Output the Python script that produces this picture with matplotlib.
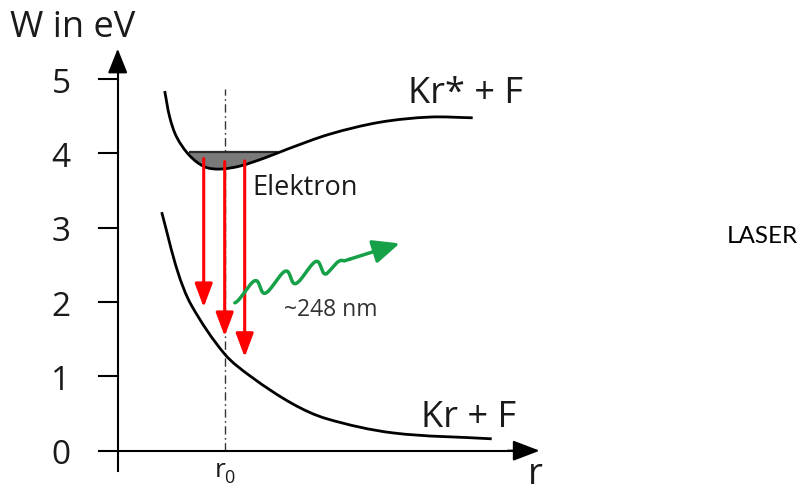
import numpy as np
import matplotlib
matplotlib.use("Agg")
import matplotlib.pyplot as plt
from matplotlib.path import Path
from matplotlib.patches import PathPatch

# ---- potential curves (r in arbitrary units, W in eV) ----
excited_r = [0.47, 0.52, 0.59, 0.72, 0.87, 1.02, 1.22, 1.47, 1.70, 2.12, 2.62, 3.12, 3.55]
excited_W = [4.84, 4.49, 4.22, 3.97, 3.82, 3.79, 3.83, 3.94, 4.06, 4.26, 4.42, 4.49, 4.48]

ground_r = [0.44, 0.60, 0.74, 1.07, 1.34, 1.75, 2.09, 2.75, 3.74]
ground_W = [3.21, 2.41, 1.95, 1.30, 0.99, 0.63, 0.43, 0.24, 0.16]

electron_level = 4.02          # filled part of the well
r0 = 1.07                      # equilibrium distance

# transitions (downward arrows)
trans_r = [0.86, 1.07, 1.27]
trans_top = [3.93, 3.89, 3.90]
trans_bottom = [1.93, 1.54, 1.26]

# emitted photon
photon_start = (1.15, 2.08)
photon_tip = (2.82, 2.79)

y_ticks = [0, 1, 2, 3, 4, 5]
y_tick_labels = ["0", "1", "2", "3", "4", "5"]

# pixel scale of the drawing (data units per pixel)
PX_R = 1 / 100.0
PX_W = 1 / 74.3

FONT = "Open Sans"
plt.rcParams["font.family"] = [FONT, "DejaVu Sans"]

fig = plt.figure(figsize=(8.03, 4.89), dpi=100)
ax = fig.add_axes([0, 0, 1, 1])
ax.set_xlim(-1.177, 6.853)
ax.set_ylim(-0.502, 6.079)
ax.axis("off")


def smooth_path(xs, ys):
    """Cubic Hermite curve through the points, chord-length parameterised
    in screen units so the drawn line has no kinks."""
    pts = np.column_stack([np.asarray(xs) / PX_R, np.asarray(ys) / PX_W])
    n = len(pts)
    seg = np.hypot(*np.diff(pts, axis=0).T)
    t = np.concatenate([[0], np.cumsum(seg)])
    m = np.zeros_like(pts)
    m[0] = (pts[1] - pts[0]) / (t[1] - t[0])
    m[-1] = (pts[-1] - pts[-2]) / (t[-1] - t[-2])
    for i in range(1, n - 1):
        m[i] = (pts[i + 1] - pts[i - 1]) / (t[i + 1] - t[i - 1])
    verts = [pts[0]]
    codes = [Path.MOVETO]
    for i in range(n - 1):
        h = t[i + 1] - t[i]
        verts += [pts[i] + m[i] * h / 3, pts[i + 1] - m[i + 1] * h / 3, pts[i + 1]]
        codes += [Path.CURVE4] * 3
    verts = np.array(verts) * np.array([PX_R, PX_W])
    return Path(verts, codes)


curve_lw = 2.0
excited_path = smooth_path(excited_r, excited_W)
ground_path = smooth_path(ground_r, ground_W)

# filled electron population in the well
poly = excited_path.to_polygons(closed_only=False)[0]
inside = poly[:, 1] <= electron_level
ax.fill_between(poly[:, 0], poly[:, 1], electron_level, where=inside,
                interpolate=True, color="#7a7a7a", lw=0, zorder=2)
xin = poly[inside][:, 0]
ax.plot([xin.min() - 0.01, xin.max() + 0.015], [electron_level, electron_level],
        color="#2a2a2a", lw=1.6, zorder=3, solid_capstyle="butt")

for p in (excited_path, ground_path):
    ax.add_patch(PathPatch(p, fill=False, lw=curve_lw, ec="black",
                           capstyle="butt", zorder=4))

# axes with arrows
axis_lw = 1.5
ax.plot([0, 0], [-0.27, 5.2], color="black", lw=axis_lw, zorder=5)
ax.annotate("", xy=(0, 5.41), xytext=(0, 5.1),
            arrowprops=dict(arrowstyle="-|>,head_length=0.5,head_width=0.2",
                            mutation_scale=30, color="black", lw=axis_lw,
                            shrinkA=0, shrinkB=0), zorder=5)
ax.plot([-0.187, 4.0], [0, 0], color="black", lw=axis_lw, zorder=5)
ax.annotate("", xy=(4.22, 0), xytext=(3.9, 0),
            arrowprops=dict(arrowstyle="-|>,head_length=0.55,head_width=0.21",
                            mutation_scale=30, color="black", lw=axis_lw,
                            shrinkA=0, shrinkB=0), zorder=5)

for tk, lab in zip(y_ticks, y_tick_labels):
    if tk != 0:
        ax.plot([-0.187, 0], [tk, tk], color="black", lw=axis_lw, zorder=5)
    ax.text(-0.567, tk - 12.5 * PX_W, lab, ha="center", va="baseline",
            fontsize=24, color="#1a1a1a")

# r0 marker line
ax.plot([r0, r0], [0, 4.87], color="#333333", lw=1.0,
        dashes=(6, 2.5, 1.2, 2.5), zorder=1)

# transitions
for x, top, bot in zip(trans_r, trans_top, trans_bottom):
    ax.annotate("", xy=(x, bot), xytext=(x, top),
                arrowprops=dict(arrowstyle="-|>,head_length=0.4,head_width=0.15",
                                mutation_scale=36, color="#ff0000", lw=2.2,
                                shrinkA=0, shrinkB=0), zorder=6)

# photon squiggle, built in pixel space then scaled to data units
green = "#16a048"
sx, sy = photon_start
tx, ty = photon_tip
dxp = (tx - sx) / PX_R
dyp = (ty - sy) / PX_W
L = np.hypot(dxp, dyp)
U = np.array([dxp, dyp]) / L
N = np.array([-U[1], U[0]])
wave_len = 118.0
t = np.linspace(0, wave_len, 500)
k = 2 * np.pi / 32.0
env = np.clip((wave_len - 6 - t) / 16.0, 0, 1)
amp = 7.5 * env
back = 4.9 * env
along = t - back * np.cos(k * t) + back[0]
perp = amp * (1 - np.cos(k * t)) - 7.0 * env
wx = sx + (along * U[0] + perp * N[0]) * PX_R
wy = sy + (along * U[1] + perp * N[1]) * PX_W
ax.plot(wx, wy, color=green, lw=2.5, zorder=6, solid_capstyle="round",
        solid_joinstyle="round")
ax.annotate("", xy=(tx, ty), xytext=(wx[-1], wy[-1]),
            arrowprops=dict(arrowstyle="-|>,head_length=0.45,head_width=0.2",
                            mutation_scale=36, color=green, lw=2.5,
                            shrinkA=0, shrinkB=0), zorder=6)

# labels
ax.text(-1.077, 5.58, "W in eV", ha="left", va="baseline", fontsize=26,
        color="#1a1a1a")
ax.text(2.90, 4.69, "Kr* + F", ha="left", va="baseline", fontsize=26,
        color="#1a1a1a")
ax.text(3.03, 0.33, "Kr + F", ha="left", va="baseline", fontsize=26,
        color="#1a1a1a")
ax.text(1.35, 3.45, "Elektron", ha="left", va="baseline", fontsize=19.5,
        color="#1a1a1a")
ax.text(1.66, 1.82, "~248 nm", ha="left", va="baseline", fontsize=16.5,
        color="#333333")
ax.text(0.97, -0.335, "r", ha="left", va="baseline", fontsize=19,
        color="#1a1a1a")
ax.text(1.065, -0.42, "0", ha="left", va="baseline", fontsize=13,
        color="#1a1a1a")
ax.text(4.10, -0.43, "r", ha="left", va="baseline", fontsize=26,
        color="#1a1a1a")
ax.text(6.09, 2.81, "LASER", ha="left", va="baseline", fontsize=17.5,
        color="black", family=["Lato", "DejaVu Sans"])

fig.savefig("out.png", dpi=100)
